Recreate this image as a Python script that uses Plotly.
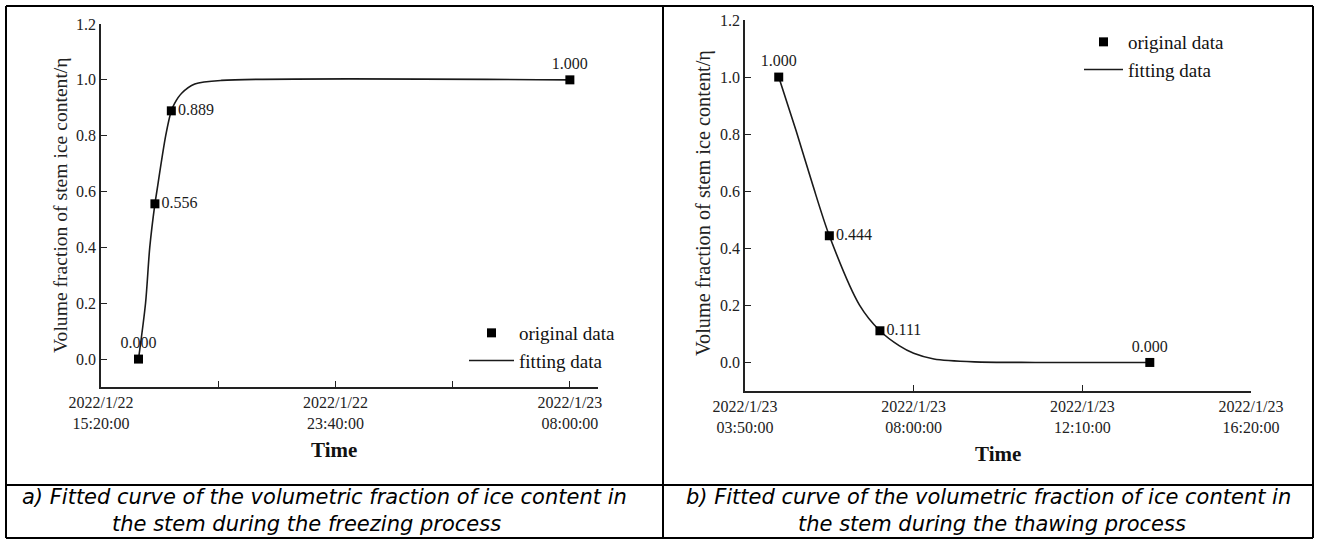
import plotly.graph_objects as go

# ---------------- data ----------------
freeze_times = ["2022-01-22 16:40", "2022-01-22 17:15", "2022-01-22 17:50", "2022-01-23 08:00"]
freeze_eta = [0.000, 0.556, 0.889, 1.000]

freeze_fit_times = ["2022-01-22 16:40", "2022-01-22 16:55", "2022-01-22 17:04", "2022-01-22 17:15",
                    "2022-01-22 17:19", "2022-01-22 17:38", "2022-01-22 17:50", "2022-01-22 17:57",
                    "2022-01-22 18:12", "2022-01-22 18:40", "2022-01-22 19:37", "2022-01-23 08:00"]
freeze_fit_eta = [0.000, 0.200, 0.400, 0.556, 0.600, 0.800, 0.889, 0.916, 0.952, 0.985, 0.998, 1.000]

thaw_times = ["2022-01-23 04:40", "2022-01-23 05:55", "2022-01-23 07:10", "2022-01-23 13:50"]
thaw_eta = [1.000, 0.444, 0.111, 0.000]

thaw_fit_times = ["2022-01-23 04:40", "2022-01-23 05:06", "2022-01-23 05:30", "2022-01-23 05:55",
                  "2022-01-23 06:40", "2022-01-23 07:10", "2022-01-23 07:39", "2022-01-23 08:00",
                  "2022-01-23 08:30", "2022-01-23 09:30", "2022-01-23 11:00", "2022-01-23 13:50"]
thaw_fit_eta = [1.000, 0.810, 0.625, 0.444, 0.200, 0.111, 0.058, 0.032, 0.012, 0.002, 0.000, 0.000]

freeze_tickvals = ["2022-01-22 15:20", "2022-01-22 19:30", "2022-01-22 23:40", "2022-01-23 03:50", "2022-01-23 08:00"]
freeze_ticktext = ["2022/1/22<br>15:20:00", "", "2022/1/22<br>23:40:00", "", "2022/1/23<br>08:00:00"]
thaw_tickvals = ["2022-01-23 03:50", "2022-01-23 08:00", "2022-01-23 12:10", "2022-01-23 16:20"]
thaw_ticktext = ["2022/1/23<br>03:50:00", "2022/1/23<br>08:00:00", "2022/1/23<br>12:10:00", "2022/1/23<br>16:20:00"]

y_ticks = [0.0, 0.2, 0.4, 0.6, 0.8, 1.0, 1.2]

freeze_label_pos = ["top center", "middle right", "middle right", "top center"]
thaw_label_pos = ["top center", "middle right", "middle right", "top center"]

y_title = "Volume fraction of stem ice content/η"
x_title = "Time"
caption_a = ["a) Fitted curve of the volumetric fraction of ice content in",
             "the stem during the freezing process"]
caption_b = ["b) Fitted curve of the volumetric fraction of ice content in",
             "the stem during the thawing process"]

# ---------------- figure ----------------
W, H = 1319, 540
SERIF = "Liberation Serif"
INK = "#1a1a1a"

def px(x):
    return x / W

def py(y):
    return 1 - y / H

fig = go.Figure()

# left panel traces
fig.add_trace(go.Scatter(
    x=freeze_fit_times, y=freeze_fit_eta, mode="lines", name="fitting data",
    line=dict(color=INK, width=1.6, shape="spline", smoothing=0.8),
    xaxis="x", yaxis="y", legend="legend", legendrank=2, hoverinfo="skip"))
fig.add_trace(go.Scatter(
    x=freeze_times, y=freeze_eta, mode="markers+text", name="original data",
    marker=dict(symbol="square", size=9, color="black"),
    text=[f"{v:.3f}" for v in freeze_eta], textposition=freeze_label_pos,
    textfont=dict(family=SERIF, size=16, color=INK),
    xaxis="x", yaxis="y", legend="legend", legendrank=1))

# right panel traces
fig.add_trace(go.Scatter(
    x=thaw_fit_times, y=thaw_fit_eta, mode="lines", name="fitting data",
    line=dict(color=INK, width=1.6, shape="spline", smoothing=0.8),
    xaxis="x2", yaxis="y2", legend="legend2", legendrank=2, hoverinfo="skip"))
fig.add_trace(go.Scatter(
    x=thaw_times, y=thaw_eta, mode="markers+text", name="original data",
    marker=dict(symbol="square", size=9, color="black"),
    text=[f"{v:.3f}" for v in thaw_eta], textposition=thaw_label_pos,
    textfont=dict(family=SERIF, size=16, color=INK),
    xaxis="x2", yaxis="y2", legend="legend2", legendrank=1))

axis_common = dict(showline=True, linecolor="#222", linewidth=1.6, showgrid=False, zeroline=False,
                   ticks="inside", ticklen=6, tickwidth=1.4, tickcolor="#222", automargin=False,
                   tickfont=dict(family=SERIF, size=16, color="#222"), mirror=False, fixedrange=True)

fig.update_layout(
    template="none",
    width=W, height=H, autosize=False,
    margin=dict(l=0, r=0, t=0, b=0, pad=0),
    paper_bgcolor="white", plot_bgcolor="white",
    xaxis=dict(domain=[px(101), px(598)], anchor="y", type="date",
               range=["2022-01-22 15:20", "2022-01-23 09:00"],
               tickvals=freeze_tickvals, ticktext=freeze_ticktext, **axis_common),
    yaxis=dict(domain=[py(387), py(24)], anchor="x", range=[-0.1, 1.2],
               tickvals=y_ticks, tickformat=".1f", **axis_common),
    xaxis2=dict(domain=[px(745), px(1251)], anchor="y2", type="date",
                range=["2022-01-23 03:50", "2022-01-23 16:20"],
                tickvals=thaw_tickvals, ticktext=thaw_ticktext, **axis_common),
    yaxis2=dict(domain=[py(391), py(20)], anchor="x2", range=[-0.1, 1.2],
                tickvals=y_ticks, tickformat=".1f", **axis_common),
    legend=dict(x=px(464), y=py(314), xanchor="left", yanchor="top",
                font=dict(family=SERIF, size=19, color="#111"), bgcolor="rgba(0,0,0,0)",
                borderwidth=0, tracegroupgap=0, itemwidth=45),
    legend2=dict(x=px(1079), y=py(23), xanchor="left", yanchor="top",
                 font=dict(family=SERIF, size=19, color="#111"), bgcolor="rgba(0,0,0,0)",
                 borderwidth=0, tracegroupgap=0, itemwidth=39),
)

# table frame
frame = dict(type="line", xref="paper", yref="paper", line=dict(color="black", width=2))
shapes = [
    dict(x0=px(6), x1=px(1313), y0=py(6), y1=py(6), **frame),
    dict(x0=px(6), x1=px(1313), y0=py(538), y1=py(538), **frame),
    dict(x0=px(6), x1=px(1313), y0=py(485), y1=py(485), **frame),
    dict(x0=px(6), x1=px(6), y0=py(6), y1=py(538), **frame),
    dict(x0=px(1313), x1=px(1313), y0=py(6), y1=py(538), **frame),
    dict(x0=px(663), x1=px(663), y0=py(6), y1=py(538), **frame),
]
fig.update_layout(shapes=shapes)

ann = []
# y titles
for xc, yc, fs in ((60, 205, 19.6), (703, 203, 20.3)):
    ann.append(dict(x=px(xc), y=py(yc), xref="paper", yref="paper", text=y_title, textangle=-90,
                    showarrow=False, xanchor="center", yanchor="middle",
                    font=dict(family=SERIF, size=fs, color="#222")))
# x titles
for xc, yc in ((334, 450), (998, 454)):
    ann.append(dict(x=px(xc), y=py(yc), xref="paper", yref="paper", text=f"<b>{x_title}</b>",
                    showarrow=False, xanchor="center", yanchor="middle",
                    font=dict(family=SERIF, size=21, color="#111")))
# captions (two lines each, centred in their cells)
for centres, lines in (((324, 306), caption_a), ((988, 992), caption_b)):
    for i, line in enumerate(lines):
        ann.append(dict(x=px(centres[i]), y=py(497 + i * 27), xref="paper", yref="paper",
                        text=f"<i>{line}</i>", showarrow=False, xanchor="center", yanchor="middle",
                        font=dict(family="DejaVu Sans", size=21, color="black")))
fig.update_layout(annotations=ann)

fig.write_html("out.html", config={"displayModeBar": False},
               post_script="document.body.style.margin='0';document.body.style.overflow='hidden';")
